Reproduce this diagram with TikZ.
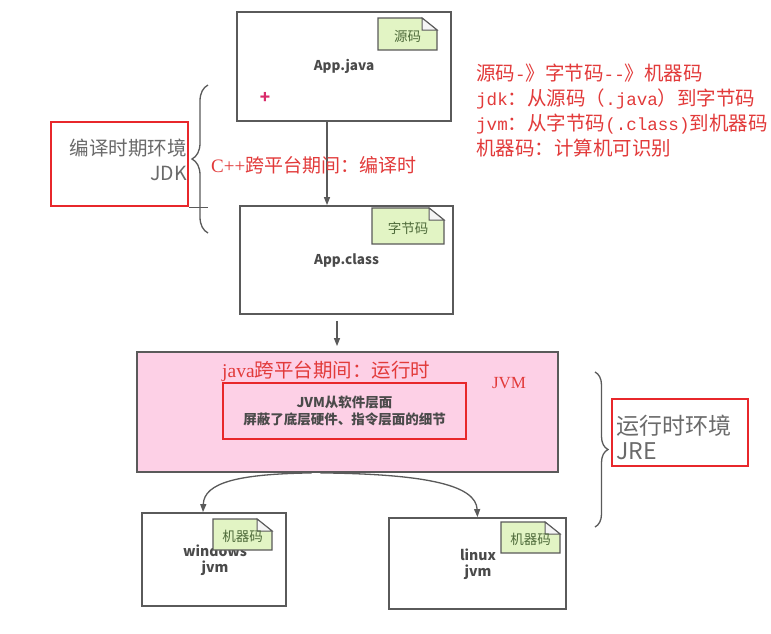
\documentclass[tikz,border=0pt]{standalone}
\usepackage{fontspec}
\setmainfont{Noto Sans CJK SC}
\newfontfamily\lserif{Liberation Serif}
\newfontfamily\lmono[Scale=0.9]{Liberation Mono}
\usetikzlibrary{arrows.meta,decorations.pathreplacing,calc}
\definecolor{boxgray}{HTML}{5A5A5A}
\definecolor{txtgray}{HTML}{4A4A4A}
\definecolor{lblgray}{HTML}{6A6A6A}
\definecolor{redtxt}{HTML}{E23A3A}
\definecolor{redbox}{HTML}{E8272B}
\definecolor{tagfill}{HTML}{E2F4C4}
\definecolor{tagtxt}{HTML}{4E6A3A}
\definecolor{pinkfill}{HTML}{FDD0E6}
\definecolor{plusc}{HTML}{D92B6A}
\newcommand\mytag[6]{%
  \path[tagshape] (#2,#3) -- (#4-15,#3) -- (#4,#3+12) -- (#4,#5) -- (#2,#5) -- cycle;
  \path[foldshape] (#4-15,#3) -- (#4-15,#3+12) -- (#4,#3+12) -- cycle;
  \node[tagtext] (#1) at ({(#2+#4)/2},{(#3+#5)/2+2}) {#6};}
\begin{document}
\begin{tikzpicture}[x=1pt,y=-1pt,
  filebox/.style={draw=boxgray,line width=1.8pt,fill=white,inner sep=0pt,
    font=\fontsize{13.5}{16}\selectfont\bfseries,text=txtgray,align=center},
  boxtext/.style={inner sep=0pt,font=\fontsize{14}{16}\selectfont\bfseries,text=txtgray,align=center},
  tagshape/.style={draw=boxgray,line width=1.3pt,fill=tagfill},
  foldshape/.style={draw=boxgray,line width=1pt,fill=white!92!gray},
  tagtext/.style={inner sep=0pt,font=\fontsize{13.5}{15}\selectfont,text=tagtxt},
  redframe/.style={draw=redbox,line width=2.6pt,inner sep=0pt},
  redlabel/.style={text=redtxt,inner sep=0pt},
  arr/.style={draw=boxgray,line width=1.3pt,-{Triangle[length=8pt,width=6pt]}},
  bigbrace/.style={draw=boxgray,line width=1.3pt,decorate,decoration={brace,amplitude=#1}},
]
\useasboundingbox (0,0) rectangle (771,633);
\fill[white] (0,0) rectangle (771,633);

% App.java
\node[filebox,minimum width=214pt,minimum height=109pt] (java) at (344,66.5) {App.java};
\mytag{tjava}{378}{18}{437}{50}{源码}
\node[text=plusc,font=\fontsize{17}{17}\selectfont\bfseries,inner sep=0pt] (plusmark) at (265,98) {+};

% App.class
\node[filebox,minimum width=213pt,minimum height=108pt] (class) at (346.5,260) {App.class};
\mytag{tclass}{372}{208}{444}{244}{字节码}

% JVM
\node[draw=boxgray,line width=1.8pt,fill=pinkfill,minimum width=421pt,minimum height=120pt,inner sep=0pt] (jvm) at (347.5,412) {};
\node[redframe,minimum width=243pt,minimum height=56pt,align=center,
  font=\fontsize{13.5}{17}\selectfont\bfseries,text=txtgray] (shield) at (344.5,411)
  {JVM从软件层面\\屏蔽了底层硬件、指令层面的细节};
\node[redlabel,anchor=west,font=\fontsize{19.5}{22}\selectfont] (javalbl) at (222,371) {{\lserif java}跨平台期间：运行时};
\node[redlabel,font=\fontsize{17}{20}\selectfont\lserif] (jvmlbl) at (509,383) {JVM};

% windows / linux
\node[filebox,minimum width=144pt,minimum height=93pt] (win) at (214,559.5) {};
\node[boxtext] (wintxt) at (215,560) {windows\\jvm};
\mytag{twin}{213}{519}{272}{550}{机器码}
\node[filebox,minimum width=177pt,minimum height=91pt] (lin) at (477.5,563.5) {};
\node[boxtext] (lintxt) at (478,564) {linux\\jvm};
\mytag{tlin}{501}{522}{560}{553}{机器码}

% arrows
\draw[arr] ([xshift=-17pt]java.south) -- ([xshift=-19.5pt]class.north);
\draw[arr] ([xshift=-9.5pt,yshift=-6pt]class.south) -- ([xshift=-10.5pt,yshift=5pt]jvm.north);
\draw[arr] ([xshift=-36pt]jvm.south) .. controls (240,474) and (204,482) .. ([xshift=-11pt]win.north);
\draw[arr] ([xshift=-27pt]jvm.south) .. controls (430,474) and (476,486) .. (lin.north);

% JDK
\coordinate (lb1) at (208,233);
\coordinate (lb2) at (208,85);
\draw[bigbrace=16pt] (lb1) -- (lb2);
\node[redframe,minimum width=137pt,minimum height=84pt] (jdkbox) at (119.5,164) {};
\node[anchor=east,align=right,text=lblgray,font=\fontsize{19.5}{25}\selectfont,inner sep=0pt] (jdktxt) at (187,160) {编译时期环境\\JDK};
\draw[boxgray,line width=1.2pt] (jdkbox.south east) -- ++(19,0);
\node[redlabel,anchor=west,font=\fontsize{19}{22}\selectfont] (cpplbl) at (211,165) {{\lserif C++}跨平台期间：编译时};

% JRE
\coordinate (rb1) at (595,372);
\coordinate (rb2) at (595,527);
\draw[bigbrace=13pt] (rb1) -- (rb2);
\node[redframe,minimum width=136pt,minimum height=67pt] (jrebox) at (680,432.5) {};
\node[anchor=west,align=left,text=lblgray,font=\fontsize{23}{25}\selectfont,inner sep=0pt] (jretxt) at (616,437.5) {运行时环境\\JRE};

% notes
\node[redlabel,anchor=west,align=left,font=\fontsize{19.5}{25}\selectfont] (notes) at (476,110.5)
  {源码{\lmono -}》字节码{\lmono -{}-}》机器码\\{\lmono jdk}：从源码（{\lmono .java}）到字节码\\{\lmono jvm}：从字节码{\lmono (.class)}到机器码\\机器码：计算机可识别};
\end{tikzpicture}
\end{document}
